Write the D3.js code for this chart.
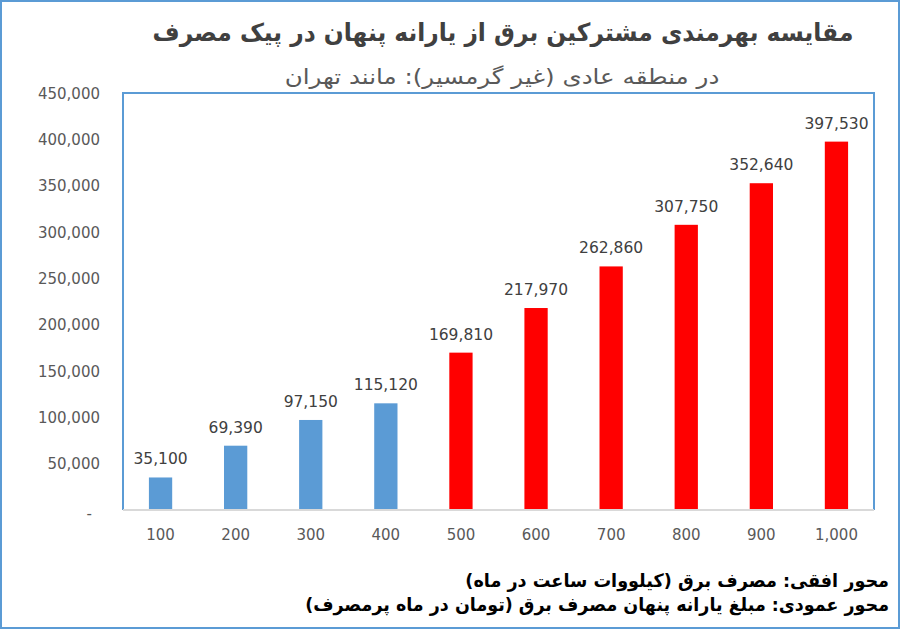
<!DOCTYPE html>
<html>
<head>
<meta charset="utf-8">
<script src="https://d3js.org/d3.v7.min.js"></script>
<style>
  html, body { margin: 0; padding: 0; background: #fff; }
  svg { display: block; }
</style>
</head>
<body>
<svg id="chart" width="902" height="631"></svg>
<script>
const categories = [100, 200, 300, 400, 500, 600, 700, 800, 900, 1000];
const values = [35100, 69390, 97150, 115120, 169810, 217970, 262860, 307750, 352640, 397530];
const barColors = ["#5b9bd5", "#5b9bd5", "#5b9bd5", "#5b9bd5", "#ff0000", "#ff0000", "#ff0000", "#ff0000", "#ff0000", "#ff0000"];
const yTicks = [0, 50000, 100000, 150000, 200000, 250000, 300000, 350000, 400000, 450000];
const titleText = "مقایسه بهرمندی مشترکین برق از یارانه پنهان در پیک مصرف";
const subtitleText = "در منطقه عادی (غیر گرمسیر): مانند تهران";
const noteLines = [
  "محور افقی: مصرف برق (کیلووات ساعت در ماه)",
  "محور عمودی: مبلغ یارانه پنهان مصرف برق (تومان در ماه پرمصرف)"
];

const svg = d3.select("#chart");
const W = 902, H = 631;
const plot = { left: 123, top: 93, right: 874, bottom: 510 };

svg.append("rect").attr("x", 0).attr("y", 0).attr("width", W).attr("height", H).attr("fill", "#fff");
svg.append("rect").attr("x", 1).attr("y", 1).attr("width", 898).attr("height", 627)
  .attr("fill", "none").attr("stroke", "#5b9bd5").attr("stroke-width", 2);

const x = d3.scaleBand().domain(categories).range([plot.left, plot.right]).paddingInner(0.69).paddingOuter(0.345);
const y = d3.scaleLinear().domain([0, 450000]).range([plot.bottom, plot.top]);

// plot area border (left, top, right)
svg.append("path")
  .attr("d", `M${plot.left},${plot.bottom}V${plot.top}H${plot.right}V${plot.bottom}`)
  .attr("fill", "none").attr("stroke", "#5b9bd5").attr("stroke-width", 2);

// bars
svg.append("g").selectAll("rect").data(values).join("rect")
  .attr("x", (d, i) => x(categories[i]))
  .attr("y", d => y(d))
  .attr("width", x.bandwidth())
  .attr("height", d => y(0) - y(d))
  .attr("fill", (d, i) => barColors[i]);

// x axis line
svg.append("line").attr("x1", plot.left).attr("x2", plot.right)
  .attr("y1", plot.bottom).attr("y2", plot.bottom)
  .attr("stroke", "#d9d9d9").attr("stroke-width", 2);

const fmt = d3.format(",");

// y axis
const yAxis = d3.axisLeft(y).tickValues(yTicks).tickSize(0).tickPadding(0)
  .tickFormat(d => d === 0 ? "-" : fmt(d));
const gy = svg.append("g").attr("transform", "translate(100,0)").call(yAxis);
gy.select(".domain").remove();
gy.selectAll("text").attr("font-family", "DejaVu Sans").attr("font-size", 15).attr("fill", "#595959")
  .attr("text-anchor", "end").attr("dy", "0.35em");
gy.selectAll(".tick").filter(d => d === 0).select("text").attr("x", -8).attr("dy", "0.55em");

// x axis labels
const xAxis = d3.axisBottom(x).tickSize(0).tickPadding(0).tickFormat(d => fmt(d));
const gx = svg.append("g").attr("transform", `translate(0,${plot.bottom + 25})`).call(xAxis);
gx.select(".domain").remove();
gx.selectAll("text").attr("font-family", "DejaVu Sans").attr("font-size", 15).attr("fill", "#595959")
  .attr("dy", "0.35em");

// data labels
svg.append("g").selectAll("text").data(values).join("text")
  .attr("x", (d, i) => x(categories[i]) + x.bandwidth() / 2)
  .attr("y", d => y(d) - 13)
  .attr("text-anchor", "middle")
  .attr("font-family", "DejaVu Sans").attr("font-size", 15.5).attr("fill", "#404040")
  .text(d => fmt(d));

// RTL text, horizontally scaled to a target width
const RLM = "\u200F";
function fitText(txt, ax, cy, targetW, size, weight, color, anchor) {
  const g = svg.append("g");
  const t = g.append("text")
    .attr("font-family", "DejaVu Sans")
    .attr("font-weight", weight)
    .attr("font-size", size)
    .attr("fill", color)
    .attr("dominant-baseline", "central")
    .attr("text-anchor", anchor)
    .attr("x", 0).attr("y", 0)
    .text(RLM + txt + RLM);
  const w = t.node().getComputedTextLength();
  const sx = targetW / w;
  g.attr("transform", `translate(${ax},${cy}) scale(${sx},1)`);
  return t;
}

fitText(titleText, 503, 33, 701, 25, "bold", "#404040", "middle");
fitText(subtitleText, 502, 77, 435, 21, "normal", "#595959", "middle");
fitText(noteLines[0], 889, 580, 424, 18.5, "bold", "#000000", "end");
fitText(noteLines[1], 889, 604, 584, 18.5, "bold", "#000000", "end");
</script>
</body>
</html>
